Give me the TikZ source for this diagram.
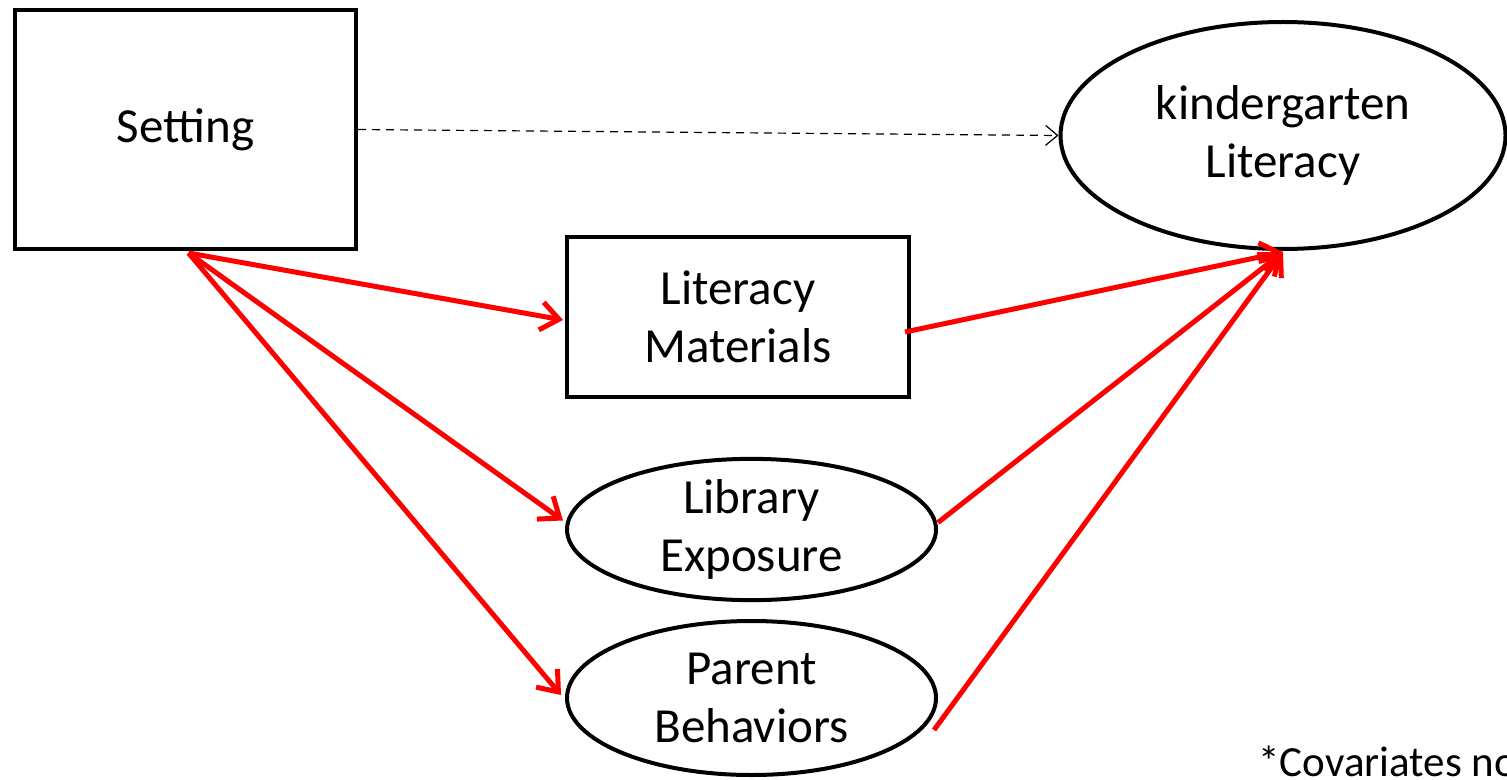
\documentclass[tikz,border=0pt]{standalone}
\usepackage{fontspec}
\setmainfont{Carlito}
\usetikzlibrary{shapes.geometric,arrows.meta,calc}
\begin{document}
\begin{tikzpicture}[x=0.5pt,y=-0.5pt,
  lbl/.style={font=\fontsize{24.5}{29}\selectfont, align=center},
  boxnode/.style={lbl, draw=black, line width=2pt, rectangle, inner sep=0pt},
  ellnode/.style={lbl, draw=black, line width=2pt, ellipse, inner sep=0pt},
  redarrow/.style={draw=red, line width=2.5pt, -{Straight Barb[length=9pt,width=14pt,line width=2.5pt]}},
  dasharrow/.style={draw=black, line width=0.6pt, dashed, dash pattern=on 4pt off 3pt, -{Straight Barb[length=6pt,width=10pt,line width=0.6pt]}}
]
\useasboundingbox (0,0) rectangle (1507,780);
\clip (0,0) rectangle (1507,780);
\node[boxnode, minimum width=170.5pt, minimum height=119.5pt] (set) at (185.5,129.5) {Setting};
\node[ellnode, minimum width=222.5pt, minimum height=113.5pt] (kl) at (1283,135.5) {kindergarten\\Literacy};
\node[boxnode, minimum width=171pt, minimum height=80pt] (lm) at (738,317) {Literacy\\Materials};
\node[ellnode, minimum width=184.5pt, minimum height=64.5pt] (le) at (751.5,529.5) {Library\\Exposure};
\node[ellnode, minimum width=184.5pt, minimum height=77pt] (pb) at (751.5,698) {Parent\\Behaviors};
\node[font=\fontsize{21.5}{25}\selectfont, anchor=base west, inner sep=0pt] (cov) at (1258,776) {*Covariates no};

\draw[dasharrow] (set.east) -- (kl.west);
\coordinate (s0) at ($(set.south)+(3,2)$);
\coordinate (k0) at ($(kl.south)+(0,1)$);
\draw[redarrow] (s0) -- ($(lm.west)+(-2,3)$);
\draw[redarrow] (s0) -- ($(le.west)+(-2,-9)$);
\draw[redarrow] (s0) -- ($(pb.west)+(-4,-3)$);
\draw[redarrow] ($(lm.east)+(-6,15)$) -- (k0);
\draw[redarrow] ($(le.east)+(0,-7)$) -- (k0);
\draw[redarrow] ($(pb.east)+(-4,32)$) -- (k0);
\end{tikzpicture}
\end{document}
